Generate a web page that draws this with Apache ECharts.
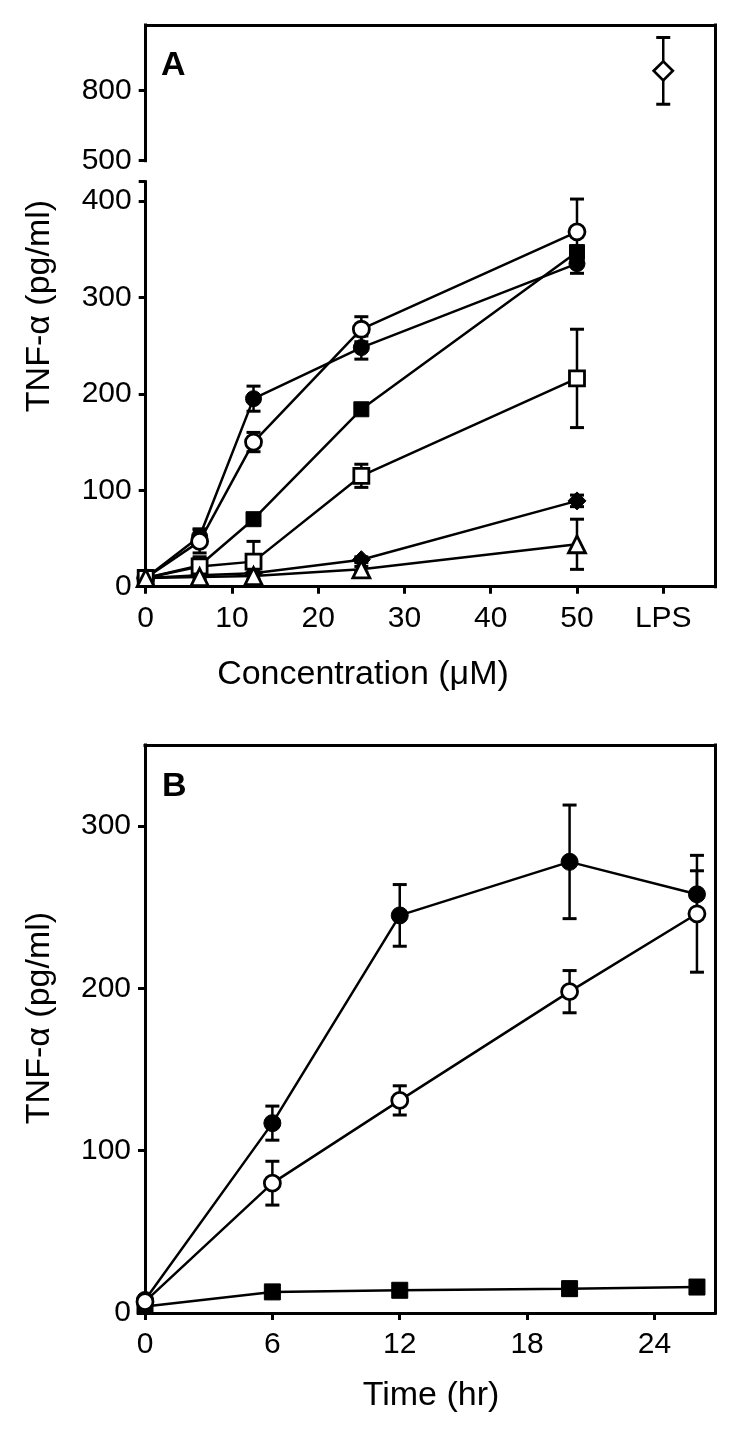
<!DOCTYPE html>
<html>
<head>
<meta charset="utf-8">
<script src="https://cdn.jsdelivr.net/npm/echarts@6/dist/echarts.min.js"></script>
<style>
html,body{margin:0;padding:0;background:#fff;}
#chart{width:750px;height:1434px;}
</style>
</head>
<body>
<div id="chart"></div>
<script>
// ---------- Panel A data ----------
const concA = [0, 6.25, 12.5, 25, 50];
const xTicksA = [0, 10, 20, 30, 40, 50, 60];
const lpsX = 60;
const lpsValue = 885;
const lpsErr = 143;
const filledCircleA = [9, 52, 195, 248, 335];
const filledCircleAErr = [0, 8, 13, 12, 10];
const openCircleA = [9, 47, 150, 267, 368];
const openCircleAErr = [0, 12, 10, 13, 34];
const filledSquareA = [9, 22, 70, 184, 347];
const filledSquareAErr = [0, 0, 0, 0, 0];
const openSquareA = [9, 21, 26, 115, 216];
const openSquareAErr = [0, 10, 21, 12, 51];
const filledDiamondA = [9, 12, 14, 28, 89];
const filledDiamondAErr = [0, 0, 0, 3, 6];
const openTriangleA = [9, 10, 11, 18, 44];
const openTriangleAErr = [0, 2, 3, 3, 26];
const yTicksALow = [0, 100, 200, 300, 400];
const yTicksAHigh = [500, 800];

// ---------- Panel B data ----------
const timeB = [0, 6, 12, 20, 26];
const xTicksB = [0, 6, 12, 18, 24];
const yTicksB = [0, 100, 200, 300];
const filledCircleB = [8, 117, 245, 278, 258];
const filledCircleBErr = [0, 10.5, 19, 35, 14.5];
const openCircleB = [7, 80, 131, 198, 246];
const openCircleBErr = [0, 13.5, 9, 13, 36];
const filledSquareB = [4, 13, 14, 15, 16];
const filledSquareBErr = [0, 2, 2, 4, 4];

const FONT = 'Liberation Sans';
const chart = echarts.init(document.getElementById('chart'), null, {renderer: 'canvas'});

function pairs(xs, ys) { return xs.map((x, i) => [x, ys[i]]); }
function triples(xs, ys, es) { return xs.map((x, i) => [x, ys[i], es[i]]); }

function renderErr(params, api) {
  const x = api.value(0), y = api.value(1), e = api.value(2);
  if (!e) return null;
  const top = api.coord([x, y + e]);
  const bot = api.coord([x, y - e]);
  const hw = 7;
  return {
    type: 'group',
    children: [
      {type: 'line', shape: {x1: top[0], y1: top[1], x2: bot[0], y2: bot[1]}, style: {stroke: '#000', lineWidth: 2.5}},
      {type: 'line', shape: {x1: top[0] - hw, y1: top[1], x2: top[0] + hw, y2: top[1]}, style: {stroke: '#000', lineWidth: 3}},
      {type: 'line', shape: {x1: bot[0] - hw, y1: bot[1], x2: bot[0] + hw, y2: bot[1]}, style: {stroke: '#000', lineWidth: 3}}
    ]
  };
}

function errSeries(xi, yi, data) {
  return {type: 'custom', xAxisIndex: xi, yAxisIndex: yi, renderItem: renderErr, data: data, z: 2, silent: true};
}
function lineSeries(xi, yi, data, symbol, size, filled) {
  return {
    type: 'line', xAxisIndex: xi, yAxisIndex: yi, data: data,
    symbol: symbol, symbolSize: size, showSymbol: true,
    lineStyle: {color: '#000', width: 2.5},
    itemStyle: filled ? {color: '#000', borderColor: '#000', borderWidth: 1}
                      : {color: '#fff', borderColor: '#000', borderWidth: 2.8},
    z: 3, silent: true, emphasis: {disabled: true}
  };
}

const axisLine = {show: true, onZero: false, lineStyle: {color: '#000', width: 3, cap: 'square'}};
const tick = {show: true, length: 7, lineStyle: {color: '#000', width: 3}};
const lbl = {color: '#000', fontFamily: FONT, fontSize: 30};
const frameOnly = {axisLine: axisLine, axisTick: {show: false}, axisLabel: {show: false}, splitLine: {show: false}};

const option = {
  backgroundColor: '#fff',
  animation: false,
  grid: [
    {left: 145.7, top: 25, width: 569.3, height: 135.7},   // A upper
    {left: 145.7, top: 181.7, width: 569.3, height: 405},  // A lower
    {left: 145.7, top: 25, width: 569.3, height: 561.7},   // A frame
    {left: 145, top: 745, width: 570, height: 568}         // B
  ],
  xAxis: [
    {gridIndex: 0, type: 'value', min: 0, max: 66, show: false},
    {gridIndex: 1, type: 'value', min: 0, max: 66, position: 'bottom',
     axisLine: axisLine, splitLine: {show: false},
     axisTick: Object.assign({customValues: xTicksA}, tick),
     axisLabel: Object.assign({customValues: xTicksA, margin: 17,
       formatter: v => (v === lpsX ? 'LPS' : String(v))}, lbl)},
    Object.assign({gridIndex: 2, type: 'value', min: 0, max: 66, position: 'top'}, frameOnly),
    {gridIndex: 3, type: 'value', min: 0, max: 26.85, position: 'bottom',
     axisLine: axisLine, splitLine: {show: false},
     axisTick: Object.assign({customValues: xTicksB}, tick),
     axisLabel: Object.assign({customValues: xTicksB, margin: 17}, lbl)},
    Object.assign({gridIndex: 3, type: 'value', min: 0, max: 26.85, position: 'top'}, frameOnly)
  ],
  yAxis: [
    {gridIndex: 0, type: 'value', min: 500, max: 1081.6, position: 'left',
     axisLine: axisLine, splitLine: {show: false},
     axisTick: Object.assign({customValues: yTicksAHigh}, tick),
     axisLabel: Object.assign({customValues: yTicksAHigh, margin: 14}, lbl)},
    {gridIndex: 1, type: 'value', min: 0, max: 420, position: 'left',
     axisLine: axisLine, splitLine: {show: false},
     axisTick: Object.assign({customValues: yTicksALow.concat([420])}, tick),
     axisLabel: Object.assign({customValues: yTicksALow, margin: 14}, lbl)},
    Object.assign({gridIndex: 2, type: 'value', min: 0, max: 1, position: 'right'}, frameOnly),
    {gridIndex: 3, type: 'value', min: 0, max: 350, position: 'left',
     axisLine: axisLine, splitLine: {show: false},
     axisTick: Object.assign({customValues: yTicksB}, tick),
     axisLabel: Object.assign({customValues: yTicksB, margin: 14}, lbl)},
    Object.assign({gridIndex: 3, type: 'value', min: 0, max: 350, position: 'right'}, frameOnly)
  ],
  series: [
    // Panel A error bars
    errSeries(1, 1, triples(concA, filledCircleA, filledCircleAErr)),
    errSeries(1, 1, triples(concA, openCircleA, openCircleAErr)),
    errSeries(1, 1, triples(concA, filledSquareA, filledSquareAErr)),
    errSeries(1, 1, triples(concA, openSquareA, openSquareAErr)),
    errSeries(1, 1, triples(concA, filledDiamondA, filledDiamondAErr)),
    errSeries(1, 1, triples(concA, openTriangleA, openTriangleAErr)),
    errSeries(0, 0, [[lpsX, lpsValue, lpsErr]]),
    // Panel A lines
    lineSeries(1, 1, pairs(concA, filledCircleA), 'circle', 16, true),
    lineSeries(1, 1, pairs(concA, openCircleA), 'circle', 16, false),
    lineSeries(1, 1, pairs(concA, filledSquareA), 'rect', 15, true),
    lineSeries(1, 1, pairs(concA, filledDiamondA), 'diamond', 18, true),
    lineSeries(1, 1, pairs(concA, openSquareA), 'rect', 15, false),
    lineSeries(1, 1, pairs(concA, openTriangleA), 'triangle', 17, false),
    lineSeries(0, 0, [[lpsX, lpsValue]], 'diamond', 19, false),
    // Panel B
    errSeries(3, 3, triples(timeB, filledCircleB, filledCircleBErr)),
    errSeries(3, 3, triples(timeB, openCircleB, openCircleBErr)),
    errSeries(3, 3, triples(timeB, filledSquareB, filledSquareBErr)),
    lineSeries(3, 3, pairs(timeB, filledSquareB), 'rect', 16, true),
    lineSeries(3, 3, pairs(timeB, filledCircleB), 'circle', 17, true),
    lineSeries(3, 3, pairs(timeB, openCircleB), 'circle', 16, false)
  ],
  graphic: [
    {type: 'text', left: 161, top: 49, style: {text: 'A', font: 'bold 34px "Liberation Sans"', fill: '#000'}},
    {type: 'text', left: 162, top: 770, style: {text: 'B', font: 'bold 34px "Liberation Sans"', fill: '#000'}},
    {type: 'text', x: 40, y: 306, rotation: Math.PI / 2,
     style: {text: 'TNF-α (pg/ml)', font: '34px "Liberation Sans"', fill: '#000', textAlign: 'center', textVerticalAlign: 'middle'}},
    {type: 'text', x: 40, y: 1018, rotation: Math.PI / 2,
     style: {text: 'TNF-α (pg/ml)', font: '34px "Liberation Sans"', fill: '#000', textAlign: 'center', textVerticalAlign: 'middle'}},
    {type: 'text', x: 363, y: 675,
     style: {text: 'Concentration (μM)', font: '34px "Liberation Sans"', fill: '#000', textAlign: 'center', textVerticalAlign: 'middle'}},
    {type: 'text', x: 431, y: 1396,
     style: {text: 'Time (hr)', font: '34px "Liberation Sans"', fill: '#000', textAlign: 'center', textVerticalAlign: 'middle'}}
  ]
};
chart.setOption(option);
</script>
</body>
</html>
